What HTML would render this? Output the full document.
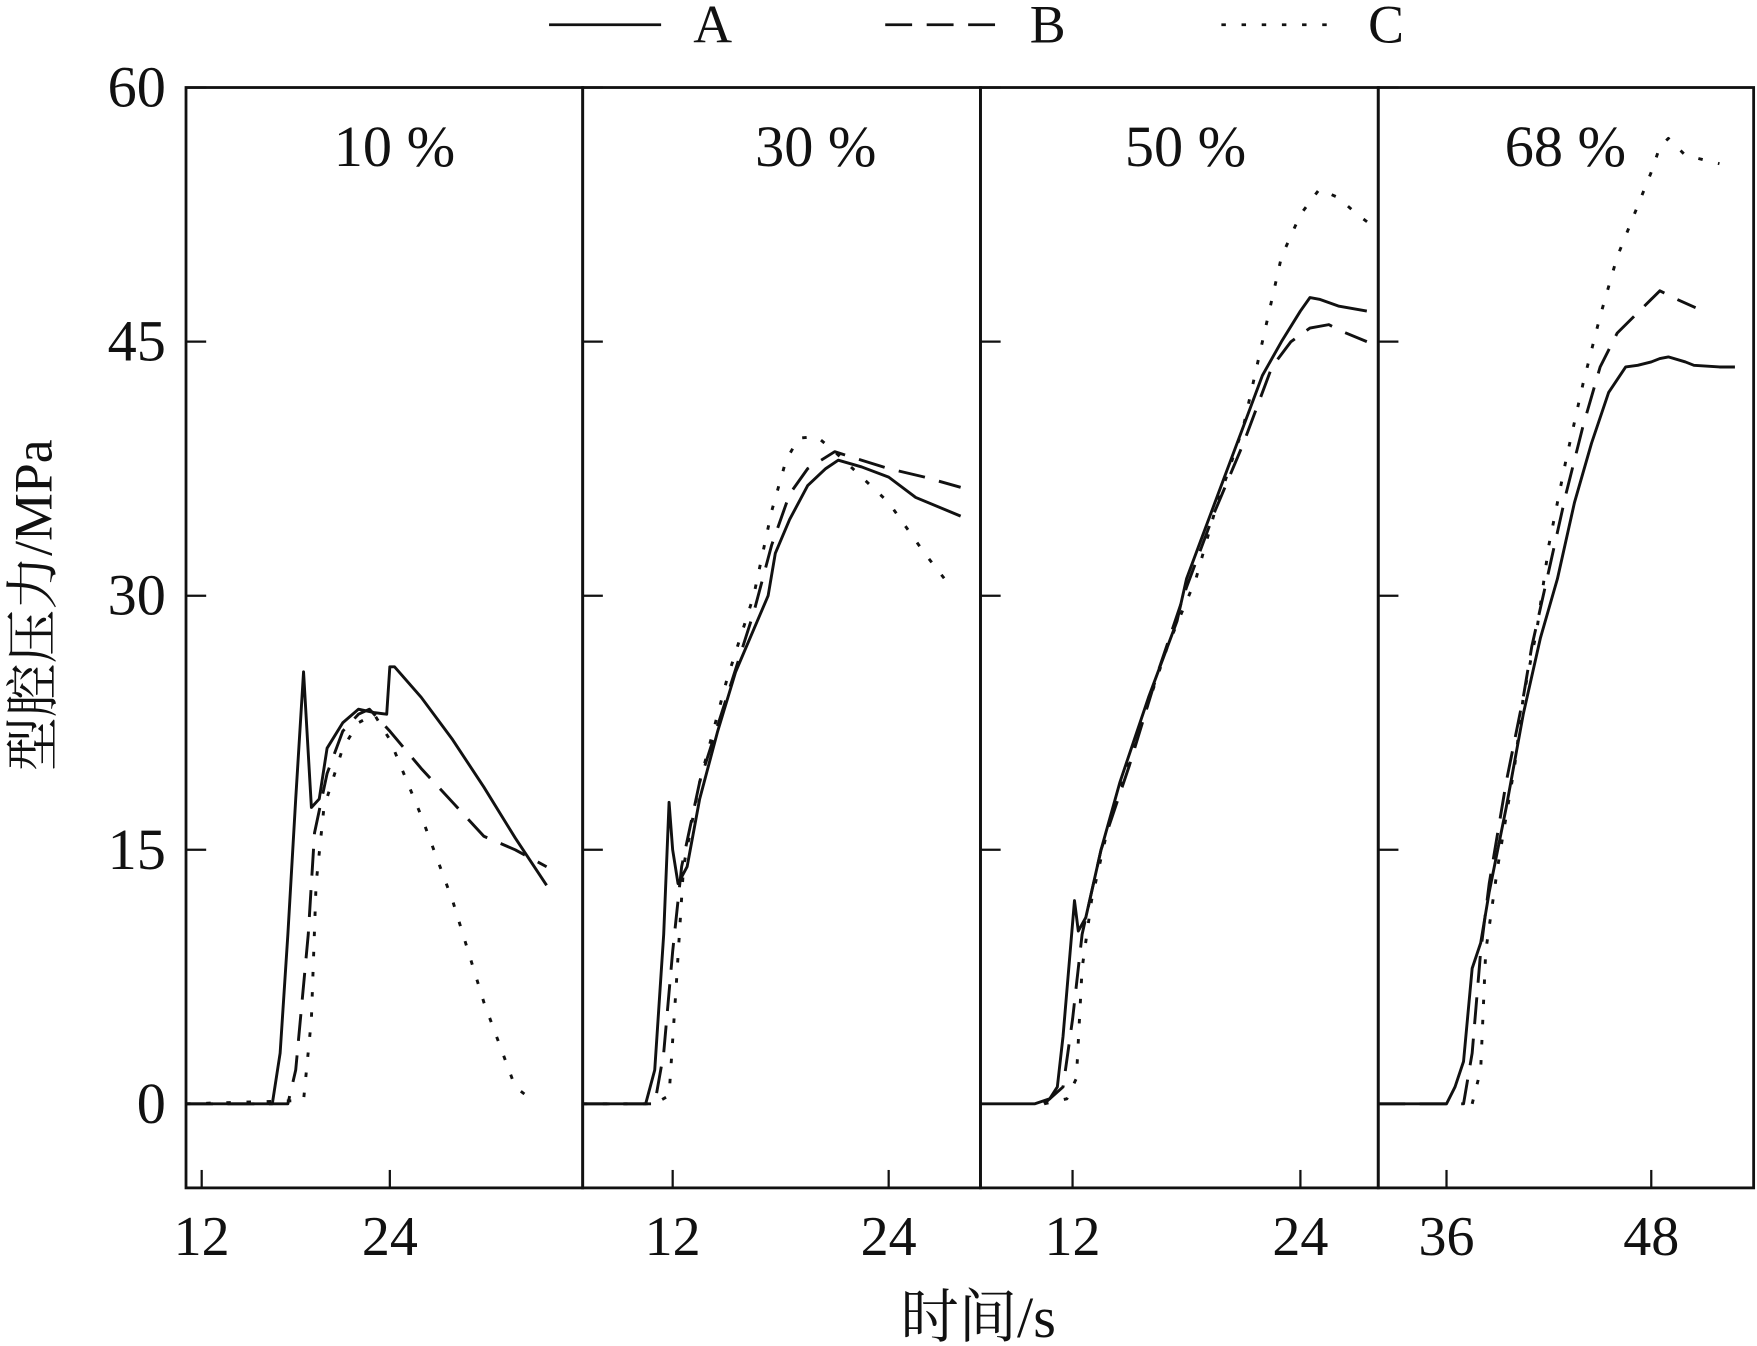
<!DOCTYPE html>
<html><head><meta charset="utf-8"><style>
html,body{margin:0;padding:0;background:#fff}
svg{display:block}
text{font-family:"Liberation Serif","Noto Serif CJK SC",serif;fill:#111}
</style></head><body>
<svg id="chart" width="1757" height="1346" viewBox="0 0 1568 1201" xmlns="http://www.w3.org/2000/svg">
<g id="legend">
 <g><line x1="490" y1="22" x2="590" y2="22" stroke="#111" stroke-width="2.5"/><text x="636" y="38" font-size="48" text-anchor="middle">A</text></g>
 <g><line x1="790" y1="22" x2="890" y2="22" stroke="#111" stroke-width="2.5" stroke-dasharray="24,13"/><text x="935" y="38" font-size="48" text-anchor="middle">B</text></g>
 <g><line x1="1090" y1="22" x2="1190" y2="22" stroke="#111" stroke-width="2.5" stroke-dasharray="4,14"/><text x="1237" y="38" font-size="48" text-anchor="middle">C</text></g>
</g>
<text x="873" y="1193" font-size="52" text-anchor="middle">时间/s</text>
<text x="0" y="0" font-size="48" text-anchor="middle" transform="translate(46,540) rotate(-90)">型腔压力/MPa</text>
<g id="plots"></g>
</svg>
<script>
const yTicks=[0,15,30,45,60];
const panelTitles=["10 %","30 %","50 %","68 %"];
const xTickLabels=[[12,24],[12,24],[12,24],[36,48]];
const p1A=[[11,0],[16.5,0],[17,3],[17.5,10],[18,18],[18.5,25.5],[19,17.5],[19.5,18],[20,21],[21,22.5],[22,23.3],[23,23.1],[23.8,23],[24,25.8],[24.3,25.8],[26,24],[28,21.5],[30,18.7],[32,15.7],[34,12.9]];
const p1B=[[11,0],[17.5,0],[18,2],[18.8,10],[19.2,16],[20,19.5],[21,22],[22,23],[22.7,23.3],[24,22],[26,19.8],[28,17.8],[30,15.8],[32,15],[34,14]];
const p1C=[[11,0],[18.5,0.2],[19,5],[19.3,13],[19.8,17.5],[21,21],[22,22.5],[23,23],[24,21.5],[26,17],[28,12],[30,6],[32,1],[32.7,0.5]];
const p2A=[[7,0],[10.5,0],[11,2],[11.5,10],[11.8,17.8],[12,15],[12.3,13],[12.8,14],[13.5,18],[14.5,22],[15.5,25.5],[16.5,28],[17.3,30],[17.7,32.5],[18.5,34.5],[19.5,36.5],[20.5,37.5],[21.2,38],[22.5,37.6],[24,37],[25.5,35.8],[28,34.7]];
const p2B=[[7,0],[11,0],[11.5,3],[12,9],[12.5,14],[13.5,19],[15,24],[16.5,29],[17.5,33],[18.5,36],[19.5,37.5],[21,38.5],[22.5,38],[24,37.5],[26,37],[28,36.4]];
const p2C=[[7,0],[11,0],[11.8,0.5],[12.2,7],[12.6,14],[13.5,19],[15,25],[16.5,30],[17.5,35],[18.3,38],[19,39.3],[20,39.4],[21,38.5],[22,37.5],[24,35.5],[26,32.5],[27.1,31]];
const p3A=[[7.2,0],[10,0],[10.8,0.3],[11.2,1],[11.5,4],[11.8,8],[12.1,12],[12.3,10.2],[12.7,11],[13.5,15],[14.5,19],[16,24],[17.5,28.5],[18,31],[19,34],[20,37],[21,40],[22,43],[23,45],[24,46.8],[24.5,47.6],[25,47.5],[26,47.1],[27.5,46.8]];
const p3B=[[10.5,0],[11.5,1],[12,5],[12.5,10],[13.5,15],[15,20],[16.5,25.5],[18,30.5],[19.5,35],[21,39],[22.5,43.5],[23.5,45],[24.5,45.8],[25.5,46],[26.2,45.6],[27.5,45]];
const p3C=[[10.5,0],[11.7,0.3],[12.2,1.5],[12.5,8],[13,12],[14,17],[15.5,22],[17,27],[18.5,31],[19.5,35],[21,40],[22,45],[23,50],[24,52.5],[25,54],[26,53.5],[27,52.5],[27.6,52]];
const p4A=[[32,0],[36,0],[36.5,1],[37,2.5],[37.5,8],[38,9.5],[38.5,12.5],[39.5,17.5],[40.5,23],[41.5,27.5],[42.5,31],[43.5,35.5],[44.5,39],[45.5,42],[46.5,43.5],[47.2,43.6],[48,43.8],[48.5,44],[49,44.1],[50,43.8],[50.5,43.6],[52,43.5],[52.9,43.5]];
const p4B=[[32,0],[37,0],[37.5,3],[38,9],[38.5,13],[39.5,19],[40.5,24],[41,27],[42,31.5],[43,36],[44,40],[45,43.5],[46,45.5],[47,46.5],[48,47.5],[48.5,48],[49.5,47.5],[50.6,47]];
const p4C=[[37.5,0],[38,2],[38.3,9],[39,14],[40,20],[40.5,24],[41.3,28],[42,33],[43,38],[44,42.5],[45,46.5],[46,50],[47,52.5],[48,55],[48.5,56.5],[49,57],[50,56],[52,55.5]];
const seriesData=[[p1A,p1B,p1C],[p2A,p2B,p2C],[p3A,p3B,p3C],[p4A,p4B,p4C]];
const panels=[{x0:166,x1:520,t0:11,t1:36.3},{x0:520,x1:875,t0:7,t1:29.1},{x0:875,x1:1230,t0:7.15,t1:28.1},{x0:1230,x1:1565,t0:32,t1:54}];
const titleX=[352,728,1058,1397];
const yTop=78,yBot=1060,vMin=-4.96,vMax=60;
const NS="http://www.w3.org/2000/svg";
const dashes=["none","24,13","4,14"];
const names=["a","b","c"];
function yScale(v){return yBot-(v-vMin)/(vMax-vMin)*(yBot-yTop);}
const root=document.getElementById('plots');
function mk(tag,attrs,parent){const e=document.createElementNS(NS,tag);for(const k in attrs)e.setAttribute(k,attrs[k]);parent.appendChild(e);return e;}
panels.forEach((p,i)=>{
 const xs=t=>p.x0+(t-p.t0)/(p.t1-p.t0)*(p.x1-p.x0);
 const g=mk('g',{},root);
 
 
 const fr=mk('rect',{x:p.x0,y:yTop,width:p.x1-p.x0,height:yBot-yTop,fill:'none',stroke:'#111','stroke-width':2.5},g);
 
 
 yTicks.forEach(v=>{
  const tk=mk('line',{x1:p.x0,x2:p.x0+18,y1:yScale(v),y2:yScale(v),stroke:'#111','stroke-width':2},g);
  
  
  if(i===0){
   const tl=mk('text',{x:148,y:yScale(v)+17,'font-size':52,'text-anchor':'end'},g);
   tl.textContent=v;
   
   
  }
 });
 xTickLabels[i].forEach(t=>{
  const tk=mk('line',{x1:xs(t),x2:xs(t),y1:yBot,y2:yBot-16,stroke:'#111','stroke-width':2},g);
  
  
  const tl=mk('text',{x:xs(t),y:1120,'font-size':50,'text-anchor':'middle'},g);
  tl.textContent=t;
  
  
 });
 const tt=mk('text',{x:titleX[i],y:148,'font-size':52,'text-anchor':'middle'},g);
 tt.textContent=panelTitles[i];
 
 
 seriesData[i].forEach((s,j)=>{
  const d=s.map((pt,k)=>(k?'L':'M')+xs(pt[0]).toFixed(1)+','+yScale(pt[1]).toFixed(1)).join(' ');
  const path=mk('path',{d:d,fill:'none',stroke:'#111','stroke-width':2.6,'stroke-linejoin':'round'},g);
  if(dashes[j]!=='none')path.setAttribute('stroke-dasharray',dashes[j]);
  
  
 });
});
</script>
</body></html>
